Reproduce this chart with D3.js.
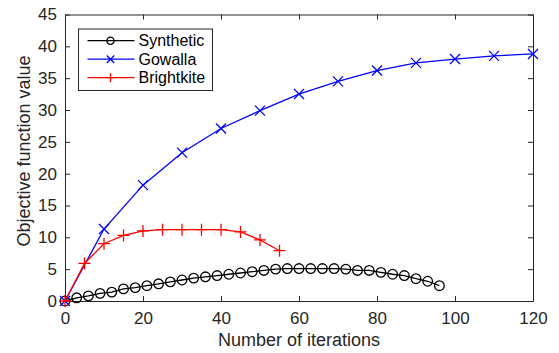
<!DOCTYPE html>
<html>
<head>
<meta charset="utf-8">
<script src="https://cdn.jsdelivr.net/npm/d3@7"></script>
<style>
    body { margin: 0; background: #fff; }
    text { font-family: "Liberation Sans", Arial, sans-serif; }
</style>
</head>
<body>
<div id="chart"></div>
<script>
(function() {
    'use strict';

    // data
    var synthX = [0, 3, 6, 9, 12, 15, 18, 21, 24, 27, 30, 33, 36, 39, 42, 45, 48, 51, 54, 57, 60, 63, 66, 69, 72, 75, 78, 81, 84, 87, 90, 93, 96];
    var synthY = [0, 0.5, 0.8, 1.2, 1.4, 1.9, 2.1, 2.4, 2.7, 3.0, 3.3, 3.6, 3.8, 4.0, 4.2, 4.4, 4.6, 4.8, 5.0, 5.1, 5.1, 5.1, 5.1, 5.1, 5.0, 4.8, 4.8, 4.5, 4.2, 4.0, 3.5, 3.1, 2.4];
    var gowX = [0, 10, 20, 30, 40, 50, 60, 70, 80, 90, 100, 110, 120];
    var gowY = [0, 11.3, 18.2, 23.3, 27.1, 29.9, 32.5, 34.5, 36.2, 37.4, 38.0, 38.5, 38.8];
    var brightX = [0, 5, 10, 15, 20, 25, 30, 35, 40, 45, 50, 55];
    var brightY = [0, 5.9, 9.0, 10.3, 11.0, 11.2, 11.2, 11.2, 11.2, 10.85, 9.6, 7.9];
    var xTicks = [0, 20, 40, 60, 80, 100, 120];
    var yTicks = [0, 5, 10, 15, 20, 25, 30, 35, 40, 45];

    var series = [
        { name: 'Synthetic', xs: synthX, ys: synthY, color: '#000000', marker: 'circle' },
        { name: 'Gowalla', xs: gowX, ys: gowY, color: '#0000ff', marker: 'x' },
        { name: 'Brightkite', xs: brightX, ys: brightY, color: '#ff0000', marker: 'plus' }
    ];

    var W = 559, H = 353;
    var m = { left: 65, right: 26, top: 14.5, bottom: 52 };
    var axisColor = '#262626';

    var svg = d3.select('#chart').append('svg')
        .attr('width', W)
        .attr('height', H);

    var x = d3.scaleLinear().domain([0, 120]).range([m.left, W - m.right]);
    var y = d3.scaleLinear().domain([0, 45]).range([H - m.bottom, m.top]);

    /**
     * Draw a MATLAB-style marker into g, s scales its size
     */
    function drawMarker(g, type, color, s) {
        if (type === 'circle') {
            g.append('circle').attr('r', 4.8 * s)
                .style('fill', 'none').style('stroke', color).style('stroke-width', 1.3);
        } else if (type === 'x') {
            var a = 5 * s;
            g.append('path').attr('d', 'M' + -a + ',' + -a + 'L' + a + ',' + a + 'M' + -a + ',' + a + 'L' + a + ',' + -a)
                .style('stroke', color).style('stroke-width', 1.3);
        } else {
            var b = 6 * s;
            g.append('path').attr('d', 'M' + -b + ',0L' + b + ',0M0,' + -b + 'L0,' + b)
                .style('stroke', color).style('stroke-width', 1.3);
        }
    }

    // axes box
    var yAxisL = d3.axisLeft(y).tickValues(yTicks).tickSizeInner(-5).tickSizeOuter(0).tickPadding(8);
    var yAxisR = d3.axisRight(y).tickValues(yTicks).tickSizeInner(-5).tickSizeOuter(0).tickFormat('');
    var xAxisB = d3.axisBottom(x).tickValues(xTicks).tickSizeInner(-5).tickSizeOuter(0).tickPadding(11);
    var xAxisT = d3.axisTop(x).tickValues(xTicks).tickSizeInner(-5).tickSizeOuter(0).tickFormat('');

    var axes = [
        svg.append('g').attr('transform', 'translate(' + m.left + ',0)').call(yAxisL),
        svg.append('g').attr('transform', 'translate(' + (W - m.right) + ',0)').call(yAxisR),
        svg.append('g').attr('transform', 'translate(0,' + (H - m.bottom) + ')').call(xAxisB),
        svg.append('g').attr('transform', 'translate(0,' + m.top + ')').call(xAxisT)
    ];
    axes.forEach(function(a) {
        a.selectAll('path, line').style('stroke', axisColor).style('stroke-width', 1);
        a.selectAll('text').style('fill', axisColor).style('font-size', '17px')
            .style('font-family', '"Liberation Sans", Arial, sans-serif');
    });

    // lines and markers
    var line = d3.line()
        .x(function(d) { return x(d[0]); })
        .y(function(d) { return y(d[1]); });

    series.forEach(function(s) {
        var pts = s.xs.map(function(v, i) { return [v, s.ys[i]]; });
        svg.append('path')
            .datum(pts)
            .attr('d', line)
            .style('fill', 'none')
            .style('stroke', s.color)
            .style('stroke-width', 1.3);

        svg.selectAll(null)
            .data(pts)
            .enter().append('g')
            .attr('transform', function(d) { return 'translate(' + x(d[0]) + ',' + y(d[1]) + ')'; })
            .each(function() { drawMarker(d3.select(this), s.marker, s.color, 1); });
    });

    // axis labels
    svg.append('text')
        .attr('x', 299)
        .attr('y', 345.5)
        .attr('text-anchor', 'middle')
        .style('font-size', '18px')
        .style('fill', axisColor)
        .text('Number of iterations');

    svg.append('text')
        .attr('transform', 'translate(30,151) rotate(-90)')
        .attr('text-anchor', 'middle')
        .style('font-size', '18px')
        .style('fill', axisColor)
        .text('Objective function value');

    // legend
    var legend = svg.append('g').attr('transform', 'translate(78.5,29)');
    legend.append('rect')
        .attr('width', 134).attr('height', 61.5)
        .style('fill', '#fff').style('stroke', axisColor).style('stroke-width', 1);

    series.forEach(function(s, i) {
        var ly = 11.7 + i * 18.5;
        legend.append('line')
            .attr('x1', 9).attr('x2', 56).attr('y1', ly).attr('y2', ly)
            .style('stroke', s.color).style('stroke-width', 1.3);
        drawMarker(legend.append('g').attr('transform', 'translate(32,' + ly + ')'), s.marker, s.color, 0.75);
        legend.append('text')
            .attr('x', 60).attr('y', ly).attr('dy', '0.36em')
            .style('font-size', '16px')
            .style('fill', '#000')
            .text(s.name);
    });
})();
</script>
</body>
</html>
